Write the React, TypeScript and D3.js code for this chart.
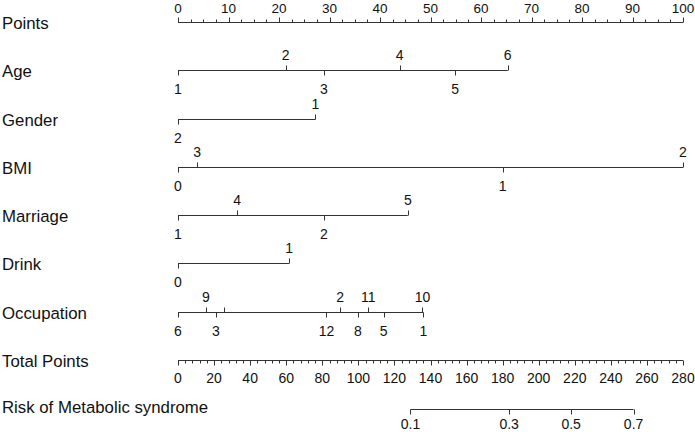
import React from "react";
import * as d3 from "d3";

// ---- data ----
const pointsMajor = d3.range(0, 101, 10);
const pointsMinor = d3.range(0, 100.01, 2.5);

const ageLevels = ["1", "2", "3", "4", "5", "6"];
const agePoints = [0, 21.3, 28.9, 43.9, 54.9, 65.3];

const genderLevels = ["2", "1"];
const genderPoints = [0, 27.2];

const bmiLevels = ["0", "3", "1", "2"];
const bmiPoints = [0, 3.8, 64.3, 100];

const marriageLevels = ["1", "4", "2", "5"];
const marriagePoints = [0, 11.7, 28.9, 45.5];

const drinkLevels = ["0", "1"];
const drinkPoints = [0, 22.0];

const occupationLevels = ["6", "9", "3", "7", "12", "2", "8", "11", "5", "10", "1"];
const occupationPoints = [0, 5.5, 7.5, 9.1, 29.4, 32.1, 35.6, 37.7, 40.7, 48.4, 48.6];
const occupationHiddenLabels = ["7"]; // label suppressed (overlap) in the reference

const totalMajor = d3.range(0, 281, 20);
const totalMinor = d3.range(0, 280.01, 4);

const riskLabels = ["0.1", "0.3", "0.5", "0.7"];
const riskTotalPoints = [128.9, 183.6, 218.0, 252.6];

const rowNames = [
  "Points",
  "Age",
  "Gender",
  "BMI",
  "Marriage",
  "Drink",
  "Occupation",
  "Total Points",
  "Risk of Metabolic syndrome",
];

// ---- layout ----
const W = 695;
const H = 432;
const X0 = 178;
const X1 = 683;
const rowY = [22, 70, 119, 167, 215, 263, 312, 360, 409];
const FONT = "'Liberation Sans', Arial, Helvetica, sans-serif";
const LINE = "#333";
const TXT = "#111";
const TICK_FS = 14;
const NAME_FS = 16.8;

const xPts = d3.scaleLinear().domain([0, 100]).range([X0, X1]);
const xTot = d3.scaleLinear().domain([0, 280]).range([X0, X1]);

type VarAxisProps = {
  y: number;
  levels: string[];
  points: number[];
  hidden?: string[];
};

function VarAxis({ y, levels, points, hidden = [] }: VarAxisProps) {
  const items = levels
    .map((l, i) => ({ label: l, p: points[i] }))
    .sort((a, b) => a.p - b.p);
  const ext = d3.extent(items, (d) => d.p) as [number, number];
  const yy = y + 0.5;
  return (
    <g>
      <line x1={xPts(ext[0])} x2={xPts(ext[1])} y1={yy} y2={yy} stroke={LINE} strokeWidth={1} />
      {items.map((d, i) => {
        const above = i % 2 === 1;
        const x = Math.round(xPts(d.p)) + 0.5;
        return (
          <g key={d.label}>
            <line x1={x} x2={x} y1={yy} y2={above ? yy - 5 : yy + 5} stroke={LINE} strokeWidth={1} />
            {hidden.includes(d.label) ? null : (
              <text
                x={xPts(d.p)}
                y={above ? y - 10 : y + 24}
                textAnchor="middle"
                fontSize={TICK_FS}
                fill={TXT}
              >
                {d.label}
              </text>
            )}
          </g>
        );
      })}
    </g>
  );
}

export default function App() {
  const yP = rowY[0] + 0.5;
  const yT = rowY[7] + 0.5;
  const yR = rowY[8] + 0.5;
  const riskX = riskTotalPoints.map((v) => xTot(v));
  return (
    <svg
      width={W}
      height={H}
      viewBox={`0 0 ${W} ${H}`}
      style={{ position: "absolute", left: 0, top: 0, background: "#fff" }}
      fontFamily={FONT}
    >
      <rect width={W} height={H} fill="#fff" />
      {/* row names */}
      {rowNames.map((n, i) => (
        <text key={n} x={2} y={rowY[i] + (i === 8 ? 4 : 7)} fontSize={NAME_FS} fill={TXT}>
          {n}
        </text>
      ))}

      {/* Points axis */}
      <line x1={xPts(0)} x2={xPts(100)} y1={yP} y2={yP} stroke={LINE} strokeWidth={1} />
      {pointsMinor.map((v) => {
        const x = Math.round(xPts(v)) + 0.5;
        const major = Math.abs(v / 10 - Math.round(v / 10)) < 1e-6;
        return <line key={"pm" + v} x1={x} x2={x} y1={yP} y2={yP - (major ? 5 : 3)} stroke={LINE} strokeWidth={1} />;
      })}
      {pointsMajor.map((v) => (
        <text key={"pt" + v} x={xPts(v)} y={rowY[0] - 9.5} textAnchor="middle" fontSize={13.5} fill={TXT}>
          {v}
        </text>
      ))}

      <VarAxis y={rowY[1]} levels={ageLevels} points={agePoints} />
      <VarAxis y={rowY[2]} levels={genderLevels} points={genderPoints} />
      <VarAxis y={rowY[3]} levels={bmiLevels} points={bmiPoints} />
      <VarAxis y={rowY[4]} levels={marriageLevels} points={marriagePoints} />
      <VarAxis y={rowY[5]} levels={drinkLevels} points={drinkPoints} />
      <VarAxis y={rowY[6]} levels={occupationLevels} points={occupationPoints} hidden={occupationHiddenLabels} />

      {/* Total points axis */}
      <line x1={xTot(0)} x2={xTot(280)} y1={yT} y2={yT} stroke={LINE} strokeWidth={1} />
      {totalMinor.map((v) => {
        const x = Math.round(xTot(v)) + 0.5;
        const major = v % 20 === 0;
        return <line key={"tm" + v} x1={x} x2={x} y1={yT} y2={yT + (major ? 5 : 3)} stroke={LINE} strokeWidth={1} />;
      })}
      {totalMajor.map((v) => (
        <text key={"tt" + v} x={xTot(v)} y={rowY[7] + 23} textAnchor="middle" fontSize={TICK_FS} fill={TXT}>
          {v}
        </text>
      ))}

      {/* Risk axis */}
      <line x1={riskX[0]} x2={riskX[riskX.length - 1]} y1={yR} y2={yR} stroke={LINE} strokeWidth={1} />
      {riskLabels.map((l, i) => {
        const x = Math.round(riskX[i]) + 0.5;
        return (
          <g key={"r" + l}>
            <line x1={x} x2={x} y1={yR} y2={yR + 5} stroke={LINE} strokeWidth={1} />
            <text x={riskX[i]} y={rowY[8] + 20} textAnchor="middle" fontSize={TICK_FS} fill={TXT}>
              {l}
            </text>
          </g>
        );
      })}
    </svg>
  );
}
